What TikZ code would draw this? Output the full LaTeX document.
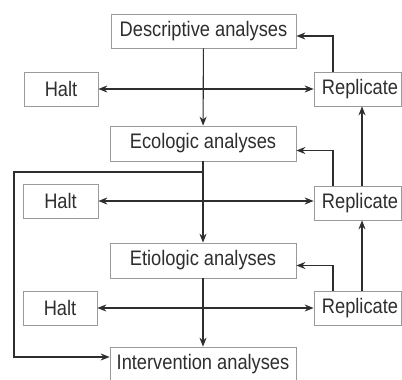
\documentclass[tikz,border=0pt]{standalone}
\usepackage{fontspec}
\setmainfont{Liberation Sans}[FakeStretch=0.87]
\usetikzlibrary{arrows.meta}
\definecolor{ink}{HTML}{2E2E2E}
\definecolor{boxline}{HTML}{9A9A9A}
\tikzset{
  box/.style={draw=boxline, line width=0.7pt, inner sep=0pt, text=ink,
    font=\fontsize{21}{24}\selectfont},
  conn/.style={draw=ink, line width=1.1pt, -{Stealth[length=9pt,width=7pt]}},
  dconn/.style={draw=ink, line width=1.1pt, {Stealth[length=9pt,width=7pt]}-{Stealth[length=9pt,width=7pt]}}
}
\begin{document}
\begin{tikzpicture}[x=1pt,y=-1pt]
\useasboundingbox (0,0) rectangle (402,380);
\fill[white] (0,0) rectangle (402,380);
\node[box, minimum width=185pt, minimum height=34pt] (desc) at (203.5,31) {Descriptive analyses};
\node[box, minimum width=186pt, minimum height=35pt] (eco) at (203,143.5) {Ecologic analyses};
\node[box, minimum width=186pt, minimum height=35pt] (etio) at (203,260.5) {Etiologic analyses};
\node[box, minimum width=186pt, minimum height=34pt] (inter) at (203,364) {Intervention analyses};
\node[box, minimum width=74pt, minimum height=34pt] (halt1) at (61,89) {Halt};
\node[box, minimum width=75pt, minimum height=34pt] (halt2) at (60.5,201) {Halt};
\node[box, minimum width=74pt, minimum height=34pt] (halt3) at (60,308) {Halt};
\node[box, minimum width=87pt, minimum height=34pt] (rep1) at (357.5,89) {\hspace{5pt}Replicate};
\node[box, minimum width=87pt, minimum height=34pt] (rep2) at (357.5,203) {\hspace{5pt}Replicate};
\node[box, minimum width=87pt, minimum height=34pt] (rep3) at (357.5,308.5) {\hspace{5pt}Replicate};
\coordinate (ra) at (333,0);
\coordinate (rb) at (362,0);
\coordinate (br) at (203,172);
\coordinate (bl) at (14,357);
% main chain
\draw[conn] (desc) -- (eco);
\draw[conn] (eco) -- (etio);
\draw[conn] (etio) -- (inter);
% halt <-> replicate
\draw[dconn] (halt1.east) -- (halt1.east -| rep1.west);
\draw[dconn] (halt2.east) -- (halt2.east -| rep2.west);
\draw[dconn] (halt3.east) -- (halt3.east -| rep3.west);
% replicate back to analysis
\draw[conn] (rep1.north -| ra) |- ([yshift=-5pt]desc.east);
\draw[conn] (rep2.north -| ra) |- ([yshift=-7pt]eco.east);
\draw[conn] (rep3.north -| ra) |- ([yshift=-5pt]etio.east);
% replicate chain upward
\draw[conn] (rep2.north -| rb) -- (rep1.south -| rb);
\draw[conn] (rep3.north -| rb) -- (rep2.south -| rb);
% branch to intervention
\draw[conn] (br) -| (bl) -- (bl -| inter.west);
\end{tikzpicture}
\end{document}
